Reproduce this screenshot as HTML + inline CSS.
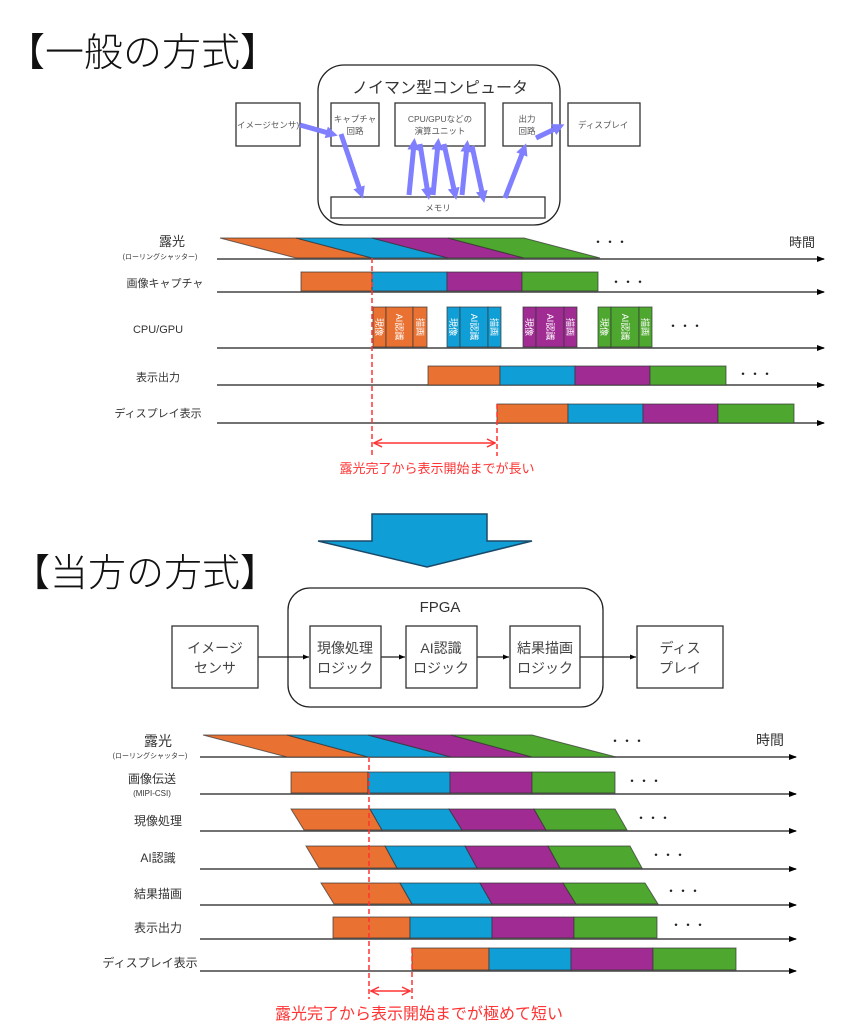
<!DOCTYPE html>
<html><head><meta charset="utf-8"><style>
html,body{margin:0;padding:0;background:#fff;}
svg{display:block;font-family:"Liberation Sans","Noto Sans CJK JP",sans-serif;}
</style></head><body>
<svg width="851" height="1024" viewBox="0 0 851 1024" xmlns="http://www.w3.org/2000/svg">
<defs>
<marker id="ah" markerWidth="8" markerHeight="8" refX="7" refY="4" orient="auto" markerUnits="userSpaceOnUse"><path d="M0,1 L8,4 L0,7 z" fill="#000"/></marker>
<marker id="ahs" markerWidth="6" markerHeight="6" refX="6" refY="3" orient="auto" markerUnits="userSpaceOnUse"><path d="M0,0.5 L6,3 L0,5.5 z" fill="#000"/></marker>
<marker id="bh" markerWidth="12" markerHeight="12" refX="6" refY="6" orient="auto" markerUnits="userSpaceOnUse"><path d="M0,0 L12,6 L0,12 z" fill="#7f7fff"/></marker>
<marker id="rh" markerWidth="10" markerHeight="10" refX="9" refY="5" orient="auto-start-reverse" markerUnits="userSpaceOnUse"><path d="M1,1 L9,5 L1,9" fill="none" stroke="#f33" stroke-width="1.5"/></marker>
</defs>

<text x="6" y="66" font-size="39" font-weight="300" fill="#111">【一般の方式】</text>

<rect x="318" y="65" width="242" height="160" rx="26" fill="none" stroke="#222" stroke-width="1.3"/>
<text x="440" y="93" font-size="16" text-anchor="middle" fill="#333">ノイマン型コンピュータ</text>
<rect x="236" y="103" width="64" height="43" fill="#fff" stroke="#333" stroke-width="1.3"/>
<text x="237" y="128" font-size="8.5" fill="#555">イメージセンサ)</text>
<rect x="331" y="103" width="48" height="43" fill="#fff" stroke="#333" stroke-width="1.3"/>
<text x="355" y="122" font-size="8.5" text-anchor="middle" fill="#555">キャプチャ</text>
<text x="355" y="134" font-size="8.5" text-anchor="middle" fill="#555">回路</text>
<rect x="395" y="103" width="90" height="43" fill="#fff" stroke="#333" stroke-width="1.3"/>
<text x="440" y="122" font-size="8.5" text-anchor="middle" fill="#555">CPU/GPUなどの</text>
<text x="440" y="134" font-size="8.5" text-anchor="middle" fill="#555">演算ユニット</text>
<rect x="503" y="103" width="49" height="43" fill="#fff" stroke="#333" stroke-width="1.3"/>
<text x="527" y="122" font-size="8.5" text-anchor="middle" fill="#555">出力</text>
<text x="527" y="134" font-size="8.5" text-anchor="middle" fill="#555">回路</text>
<rect x="568" y="103" width="72" height="43" fill="#fff" stroke="#333" stroke-width="1.3"/>
<text x="578" y="128" font-size="8.5" fill="#555">ディスプレイ</text>
<rect x="331" y="197" width="214" height="21" fill="#fff" stroke="#333" stroke-width="1.3"/>
<text x="438" y="211" font-size="8.5" text-anchor="middle" fill="#555">メモリ</text>
<g stroke="#7f7fff" stroke-width="5" fill="none" marker-end="url(#bh)">
<line x1="300" y1="125" x2="332" y2="134"/>
<line x1="341" y1="134" x2="361" y2="193"/>
<line x1="409" y1="195" x2="414" y2="144"/>
<line x1="420" y1="144" x2="428" y2="194"/>
<line x1="433" y1="195" x2="438" y2="144"/>
<line x1="444" y1="144" x2="455" y2="194"/>
<line x1="462" y1="195" x2="467" y2="146"/>
<line x1="472" y1="146" x2="483" y2="197"/>
<line x1="505" y1="198" x2="524" y2="149"/>
<line x1="536" y1="138" x2="559" y2="127"/>
</g>

<g stroke="#444" stroke-width="1.6">
<line x1="217" y1="259" x2="824" y2="259" marker-end="url(#ah)"/>
<line x1="217" y1="292" x2="824" y2="292" marker-end="url(#ah)"/>
<line x1="217" y1="348" x2="824" y2="348" marker-end="url(#ah)"/>
<line x1="217" y1="385" x2="824" y2="385" marker-end="url(#ah)"/>
<line x1="217" y1="423" x2="824" y2="423" marker-end="url(#ah)"/>
</g>
<g stroke="#333" stroke-width="1" stroke-opacity="0.7">
<polygon points="220,238 296,238 372,258 296,258" fill="#e97132"/>
<polygon points="296,238 372,238 448,258 372,258" fill="#0f9ed5"/>
<polygon points="372,238 448,238 524,258 448,258" fill="#a02b93"/>
<polygon points="448,238 524,238 600,258 524,258" fill="#4ea72e"/>
<rect x="301" y="272" width="71" height="19" fill="#e97132"/>
<rect x="372" y="272" width="75" height="19" fill="#0f9ed5"/>
<rect x="447" y="272" width="75" height="19" fill="#a02b93"/>
<rect x="522" y="272" width="76" height="19" fill="#4ea72e"/>
<rect x="428" y="366" width="72" height="19" fill="#e97132"/>
<rect x="500" y="366" width="75" height="19" fill="#0f9ed5"/>
<rect x="575" y="366" width="75" height="19" fill="#a02b93"/>
<rect x="650" y="366" width="76" height="19" fill="#4ea72e"/>
<rect x="497" y="404" width="71" height="19" fill="#e97132"/>
<rect x="568" y="404" width="75" height="19" fill="#0f9ed5"/>
<rect x="643" y="404" width="75" height="19" fill="#a02b93"/>
<rect x="718" y="404" width="76" height="19" fill="#4ea72e"/>
</g>
<g stroke="#333" stroke-width="1" stroke-opacity="0.7">
<rect x="373" y="307" width="13" height="40" fill="#e97132"/><rect x="386" y="307" width="27" height="40" fill="#e97132"/><rect x="413" y="307" width="14" height="40" fill="#e97132"/>
<rect x="447" y="307" width="13" height="40" fill="#0f9ed5"/><rect x="460" y="307" width="28" height="40" fill="#0f9ed5"/><rect x="488" y="307" width="13" height="40" fill="#0f9ed5"/>
<rect x="523" y="307" width="13" height="40" fill="#a02b93"/><rect x="536" y="307" width="28" height="40" fill="#a02b93"/><rect x="564" y="307" width="13" height="40" fill="#a02b93"/>
<rect x="598" y="307" width="13" height="40" fill="#4ea72e"/><rect x="611" y="307" width="28" height="40" fill="#4ea72e"/><rect x="639" y="307" width="13" height="40" fill="#4ea72e"/>
</g>
<g font-size="9" fill="#fff" text-anchor="middle">
<text transform="translate(376,327) rotate(90)">現像</text><text transform="translate(396,327) rotate(90)">AI認識</text><text transform="translate(417,327) rotate(90)">描画</text>
<text transform="translate(450,327) rotate(90)">現像</text><text transform="translate(471,327) rotate(90)">AI認識</text><text transform="translate(491,327) rotate(90)">描画</text>
<text transform="translate(526,327) rotate(90)">現像</text><text transform="translate(547,327) rotate(90)">AI認識</text><text transform="translate(567,327) rotate(90)">描画</text>
<text transform="translate(601,327) rotate(90)">現像</text><text transform="translate(622,327) rotate(90)">AI認識</text><text transform="translate(642,327) rotate(90)">描画</text>
</g>
<g font-size="11" fill="#333" text-anchor="middle">
<text x="172" y="246" font-size="13">露光</text>
<text x="160" y="259" font-size="7">(ローリングシャッター)</text>
<text x="165" y="287">画像キャプチャ</text>
<text x="158" y="333">CPU/GPU</text>
<text x="158" y="381">表示出力</text>
<text x="158" y="417">ディスプレイ表示</text>
<text x="802" y="247" font-size="13">時間</text>
</g>
<g font-size="12" fill="#222" text-anchor="middle">
<text x="610" y="246">・・・</text>
<text x="628" y="286">・・・</text>
<text x="685" y="330">・・・</text>
<text x="755" y="378">・・・</text>
</g>
<g stroke="#f33" stroke-width="1.5" stroke-dasharray="5,3">
<line x1="372" y1="258" x2="372" y2="456"/>
<line x1="497" y1="404" x2="497" y2="456"/>
</g>
<line x1="374" y1="443" x2="495" y2="443" stroke="#f33" stroke-width="1.5" marker-start="url(#rh)" marker-end="url(#rh)"/>
<text x="437" y="473" font-size="13" fill="#f33" text-anchor="middle">露光完了から表示開始までが長い</text>

<polygon points="372,514 487,514 487,541 532,541 427,567 318,541 372,541" fill="#0f9ed5" stroke="#1a4a6a" stroke-width="1.5"/>

<text x="12" y="586" font-size="38" font-weight="300" fill="#111">【当方の方式】</text>

<rect x="288" y="588" width="315" height="119" rx="22" fill="none" stroke="#222" stroke-width="1.3"/>
<text x="440" y="612" font-size="15" text-anchor="middle" fill="#333">FPGA</text>
<g stroke="#222" stroke-width="1.2">
<line x1="258" y1="657" x2="309" y2="657" marker-end="url(#ahs)"/>
<line x1="381" y1="657" x2="405" y2="657" marker-end="url(#ahs)"/>
<line x1="477" y1="657" x2="509" y2="657" marker-end="url(#ahs)"/>
<line x1="580" y1="657" x2="636" y2="657" marker-end="url(#ahs)"/>
</g>
<g fill="#fff" stroke="#333" stroke-width="1.3">
<rect x="172" y="626" width="86" height="62"/>
<rect x="310" y="626" width="71" height="62"/>
<rect x="406" y="626" width="71" height="62"/>
<rect x="510" y="626" width="70" height="62"/>
<rect x="637" y="626" width="86" height="62"/>
</g>
<g font-size="14" fill="#444" text-anchor="middle">
<text x="215" y="653">イメージ</text><text x="215" y="673">センサ</text>
<text x="345" y="653">現像処理</text><text x="345" y="673">ロジック</text>
<text x="441" y="653">AI認識</text><text x="441" y="673">ロジック</text>
<text x="545" y="653">結果描画</text><text x="545" y="673">ロジック</text>
<text x="680" y="653">ディス</text><text x="680" y="673">プレイ</text>
</g>

<g stroke="#444" stroke-width="1.6">
<line x1="200" y1="757" x2="796" y2="757" marker-end="url(#ah)"/>
<line x1="200" y1="794" x2="796" y2="794" marker-end="url(#ah)"/>
<line x1="200" y1="831" x2="796" y2="831" marker-end="url(#ah)"/>
<line x1="200" y1="869" x2="796" y2="869" marker-end="url(#ah)"/>
<line x1="200" y1="905" x2="796" y2="905" marker-end="url(#ah)"/>
<line x1="200" y1="939" x2="796" y2="939" marker-end="url(#ah)"/>
<line x1="200" y1="971" x2="796" y2="971" marker-end="url(#ah)"/>
</g>
<g stroke="#333" stroke-width="1" stroke-opacity="0.7">
<polygon points="203,735 287,735 368,757 287,757" fill="#e97132"/>
<polygon points="287,735 368,735 451,757 368,757" fill="#0f9ed5"/>
<polygon points="368,735 451,735 532,757 451,757" fill="#a02b93"/>
<polygon points="451,735 532,735 616,757 532,757" fill="#4ea72e"/>
<rect x="291" y="772" width="77" height="21" fill="#e97132"/>
<rect x="368" y="772" width="82" height="21" fill="#0f9ed5"/>
<rect x="450" y="772" width="82" height="21" fill="#a02b93"/>
<rect x="532" y="772" width="83" height="21" fill="#4ea72e"/>
<polygon points="291,809 370,809 382,830 304,830" fill="#e97132"/>
<polygon points="370,809 449,809 462,830 382,830" fill="#0f9ed5"/>
<polygon points="449,809 534,809 546,830 462,830" fill="#a02b93"/>
<polygon points="534,809 615,809 627,830 546,830" fill="#4ea72e"/>
<polygon points="306,846 385,846 397,868 319,868" fill="#e97132"/>
<polygon points="385,846 465,846 477,868 397,868" fill="#0f9ed5"/>
<polygon points="465,846 548,846 560,868 477,868" fill="#a02b93"/>
<polygon points="548,846 630,846 642,868 560,868" fill="#4ea72e"/>
<polygon points="321,883 400,883 412,904 334,904" fill="#e97132"/>
<polygon points="400,883 480,883 492,904 412,904" fill="#0f9ed5"/>
<polygon points="480,883 563,883 576,904 492,904" fill="#a02b93"/>
<polygon points="563,883 645,883 658,904 576,904" fill="#4ea72e"/>
<rect x="333" y="917" width="77" height="21" fill="#e97132"/>
<rect x="410" y="917" width="82" height="21" fill="#0f9ed5"/>
<rect x="492" y="917" width="82" height="21" fill="#a02b93"/>
<rect x="574" y="917" width="83" height="21" fill="#4ea72e"/>
<rect x="412" y="948" width="77" height="22" fill="#e97132"/>
<rect x="489" y="948" width="82" height="22" fill="#0f9ed5"/>
<rect x="571" y="948" width="82" height="22" fill="#a02b93"/>
<rect x="653" y="948" width="83" height="22" fill="#4ea72e"/>
</g>
<g font-size="12" fill="#333" text-anchor="middle">
<text x="158" y="746" font-size="14">露光</text>
<text x="150" y="758" font-size="7">(ローリングシャッター)</text>
<text x="152" y="783">画像伝送</text>
<text x="152" y="796" font-size="8">(MIPI-CSI)</text>
<text x="158" y="825">現像処理</text>
<text x="158" y="862">AI認識</text>
<text x="158" y="898">結果描画</text>
<text x="158" y="932">表示出力</text>
<text x="150" y="967">ディスプレイ表示</text>
<text x="770" y="745" font-size="14">時間</text>
</g>
<g font-size="12" fill="#222" text-anchor="middle">
<text x="627" y="745">・・・</text>
<text x="644" y="785">・・・</text>
<text x="653" y="822">・・・</text>
<text x="668" y="859">・・・</text>
<text x="683" y="895">・・・</text>
<text x="688" y="929">・・・</text>
</g>
<g stroke="#f33" stroke-width="1.5" stroke-dasharray="5,3">
<line x1="369" y1="757" x2="369" y2="999"/>
<line x1="412" y1="948" x2="412" y2="999"/>
</g>
<line x1="371" y1="991" x2="410" y2="991" stroke="#f33" stroke-width="1.5" marker-start="url(#rh)" marker-end="url(#rh)"/>
<text x="419" y="1019" font-size="16" fill="#f33" text-anchor="middle">露光完了から表示開始までが極めて短い</text>
</svg>
</body></html>
